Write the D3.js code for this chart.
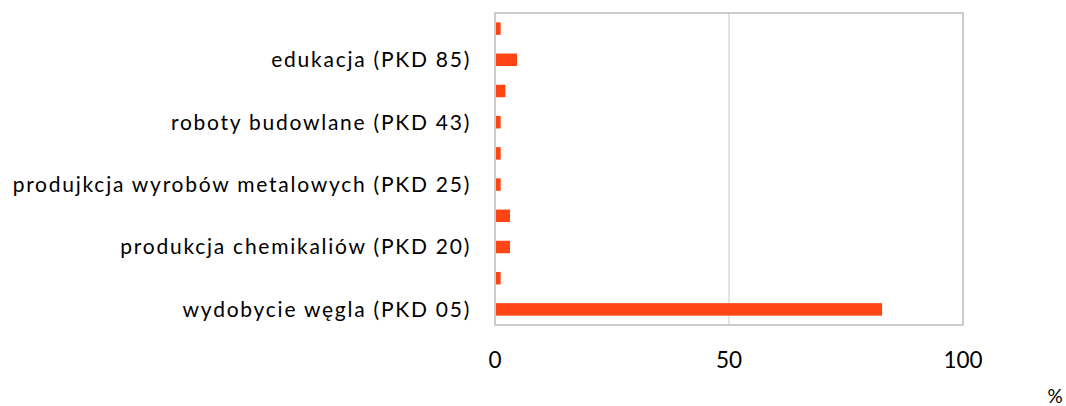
<!DOCTYPE html>
<html>
<head>
<meta charset="utf-8">
<script src="https://cdn.jsdelivr.net/npm/d3@7"></script>
<style>
  body { margin: 0; background: #fff; }
  text { font-family: Lato, "Open Sans", sans-serif; fill: #000; }
</style>
</head>
<body>
<svg id="chart" width="1066" height="406"></svg>
<script>
// categories from bottom to top, every other one is unlabeled
const categories = [
  "wydobycie węgla (PKD 05)", "",
  "produkcja chemikaliów (PKD 20)", "",
  "produjkcja wyrobów metalowych (PKD 25)", "",
  "roboty budowlane (PKD 43)", "",
  "edukacja (PKD 85)", ""
];
const values = [82.5, 1.0, 3.0, 3.0, 1.0, 1.0, 1.0, 2.0, 4.5, 1.0];
const xTicks = [0, 50, 100];
const unit = "%";

const svg = d3.select("#chart");
const margin = { left: 495, right: 103, top: 13, bottom: 81 };
const width = 1066 - margin.left - margin.right;
const height = 406 - margin.top - margin.bottom;

const g = svg.append("g")
  .attr("transform", "translate(" + margin.left + "," + margin.top + ")");

const x = d3.scaleLinear().domain([0, 100]).range([0, width]);
const y = d3.scaleBand()
  .domain(d3.range(categories.length))
  .range([height, 0])
  .paddingInner(0.6)
  .paddingOuter(0.3);

// gridline at 50
g.selectAll(".grid")
  .data(xTicks.filter((t) => t > 0 && t < 100))
  .enter()
  .append("line")
  .attr("x1", (d) => x(d))
  .attr("x2", (d) => x(d))
  .attr("y1", 0)
  .attr("y2", height)
  .attr("stroke", "#c8c8c8")
  .attr("stroke-width", 1);

// bars
g.selectAll(".bar")
  .data(values)
  .enter()
  .append("rect")
  .attr("x", x(0) + 1)
  .attr("y", (d, i) => y(i))
  .attr("width", (d) => x(d))
  .attr("height", y.bandwidth())
  .attr("fill", "#ff4514");

// frame
g.append("rect")
  .attr("x", 0)
  .attr("y", 0)
  .attr("width", width)
  .attr("height", height)
  .attr("fill", "none")
  .attr("stroke", "#bdbdbd")
  .attr("stroke-width", 1.5);

// category labels
g.selectAll(".cat")
  .data(categories)
  .enter()
  .append("text")
  .attr("x", -24)
  .attr("y", (d, i) => y(i) + y.bandwidth() / 2)
  .attr("dy", "0.35em")
  .attr("text-anchor", "end")
  .style("font-size", "21px")
  .style("letter-spacing", "1.75px")
  .text((d) => d);

// x tick labels
g.selectAll(".tick")
  .data(xTicks)
  .enter()
  .append("text")
  .attr("x", (d) => x(d))
  .attr("y", height + 35)
  .attr("dy", "0.35em")
  .attr("text-anchor", "middle")
  .style("font-size", "22.5px")
  .text((d) => d);

svg.append("text")
  .attr("x", 1055)
  .attr("y", 403)
  .attr("text-anchor", "middle")
  .style("font-size", "19px")
  .text(unit);
</script>
</body>
</html>
